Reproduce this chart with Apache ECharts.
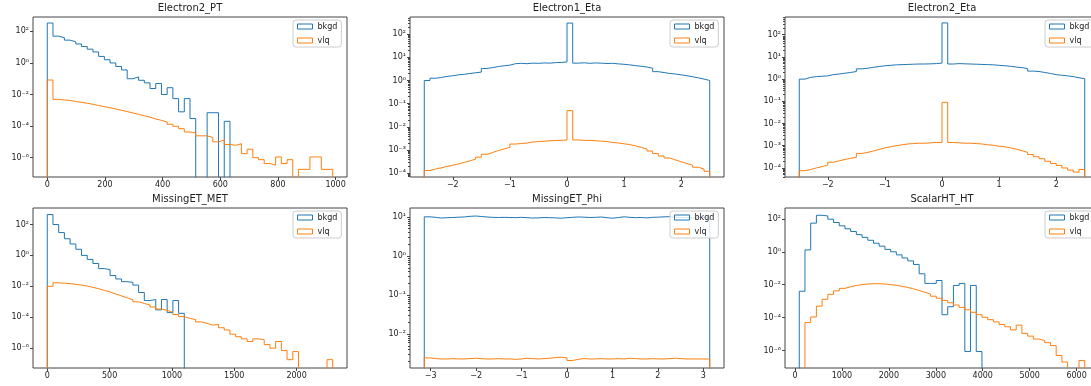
<!DOCTYPE html>
<html>
<head>
<meta charset="utf-8">
<script src="https://cdn.jsdelivr.net/npm/echarts@6/dist/echarts.min.js"></script>
<style>
  html, body { margin: 0; padding: 0; background: #fff; }
  #chart { width: 1091px; height: 386px; }
</style>
</head>
<body>
<div id="chart"></div>
<script>
// every histogram has 50 equal bins between its range [lo, hi]
const ptRange = [0, 990];
const eta1Range = [-2.5, 2.5];
const eta2Range = [-2.5, 2.5];
const metRange = [0, 2290];
const phiRange = [-Math.PI, Math.PI];
const htRange = [91, 6173];

const ptBkgd = [340, 50, 40, 28, 22, 16, 11, 7.5, 5, 2.6,
  1.6, 1.0, 0.6, 0.36, 0.1, 0.13, 0.08, 0.055, 0.024, 0.05,
  0.01, 0.027, 0.0055, 0.0008, 0.0055, 0.0003, 0, 0, 0.0007, 0.0007,
  0, 0.0002, 0, 0, 0, 0, 0, 0, 0, 0,
  0, 0, 0, 0, 0, 0, 0, 0, 0, 0];
const ptVlq = [0.083, 4.9e-3, 4.5e-3, 4.2e-3, 3.6e-3, 3.2e-3, 2.8e-3, 2.4e-3, 2.0e-3, 1.7e-3,
  1.45e-3, 1.2e-3, 1.0e-3, 8.3e-4, 6.8e-4, 5.5e-4, 4.5e-4, 3.7e-4, 2.8e-4, 2.3e-4,
  1.8e-4, 1.3e-4, 9.6e-5, 6.8e-5, 4.2e-5, 3.7e-5, 2.4e-5, 2.4e-5, 1.9e-5, 1.0e-5,
  1.3e-5, 6.8e-6, 6e-6, 7.6e-6, 1.8e-6, 3.4e-6, 1.0e-6, 7.4e-7, 4.2e-7, 3.3e-7,
  1.1e-6, 4.2e-7, 7.4e-7, 0, 1.8e-7, 1.8e-7, 1.1e-6, 1.1e-6, 1.8e-7, 1.8e-7];

const eta1Bkgd = [1.0, 1.25, 1.35, 1.5, 1.6, 1.75, 1.85, 2.0, 2.15, 2.3,
  3.3, 3.6, 4.0, 4.3, 4.6, 5.3, 5.5, 5.3, 5.6, 5.5,
  5.7, 5.6, 5.9, 6.0, 6.3, 300, 5.6, 5.8, 5.5, 5.7,
  5.6, 5.4, 5.5, 5.2, 5.0, 4.7, 4.4, 4.1, 3.8, 3.4,
  2.4, 2.2, 2.0, 1.9, 1.75, 1.6, 1.45, 1.3, 1.15, 1.0];
const eta1Vlq = [1.3e-4, 1.5e-4, 1.7e-4, 1.95e-4, 2.2e-4, 2.5e-4, 2.9e-4, 3.4e-4, 4.0e-4, 4.9e-4,
  6.5e-4, 7.8e-4, 9.5e-4, 1.1e-3, 1.3e-3, 1.8e-3, 1.9e-3, 2.0e-3, 2.2e-3, 2.3e-3,
  2.4e-3, 2.5e-3, 2.55e-3, 2.6e-3, 2.7e-3, 0.05, 2.7e-3, 2.6e-3, 2.6e-3, 2.5e-3,
  2.4e-3, 2.3e-3, 2.1e-3, 2.0e-3, 1.85e-3, 1.7e-3, 1.5e-3, 1.3e-3, 1.1e-3, 9e-4,
  7e-4, 5.5e-4, 4.5e-4, 3.7e-4, 3.1e-4, 2.6e-4, 2.2e-4, 1.8e-4, 1.5e-4, 1.2e-4];

const eta2Bkgd = [1.0, 1.2, 1.3, 1.35, 1.4, 1.6, 1.7, 1.85, 2.0, 2.2,
  2.9, 3.1, 3.4, 3.7, 4.0, 4.2, 4.4, 4.5, 4.6, 4.7,
  4.8, 4.8, 4.9, 5.0, 5.3, 340, 4.8, 5.0, 4.9, 4.8,
  4.7, 4.6, 4.5, 4.4, 4.2, 4.0, 3.8, 3.5, 3.3, 3.0,
  2.3, 2.2, 2.0, 1.8, 1.6, 1.5, 1.4, 1.3, 1.15, 1.05];
const eta2Vlq = [7.5e-5, 8.5e-5, 1.0e-4, 1.15e-4, 1.35e-4, 1.8e-4, 2.1e-4, 2.4e-4, 2.7e-4, 3.0e-4,
  4.5e-4, 5.0e-4, 5.8e-4, 6.8e-4, 8.0e-4, 9.0e-4, 1.0e-3, 1.1e-3, 1.2e-3, 1.25e-3,
  1.3e-3, 1.3e-3, 1.35e-3, 1.4e-3, 1.4e-3, 0.09, 1.4e-3, 1.35e-3, 1.3e-3, 1.3e-3,
  1.25e-3, 1.2e-3, 1.1e-3, 1.05e-3, 9.5e-4, 9.0e-4, 8.0e-4, 7.0e-4, 6.0e-4, 5.0e-4,
  4.0e-4, 3.2e-4, 2.6e-4, 2.0e-4, 1.6e-4, 1.3e-4, 1.0e-4, 8e-5, 6.5e-5, 8.5e-5];

const metBkgd = [440, 100, 30, 12, 5.5, 2.5, 1.0, 0.55, 0.3, 0.14,
  0.12, 0.05, 0.03, 0.02, 0.018, 0.012, 0.004, 0.0012, 0.0014, 0.0003,
  0.0014, 0.0002, 0.0012, 0.00018, 0, 0, 0, 0, 0, 0,
  0, 0, 0, 0, 0, 0, 0, 0, 0, 0,
  0, 0, 0, 0, 0, 0, 0, 0, 0, 0];
const metVlq = [1e-2, 1.7e-2, 1.6e-2, 1.5e-2, 1.35e-2, 1.2e-2, 1.05e-2, 8.6e-3, 7e-3, 5.5e-3,
  4.3e-3, 3.2e-3, 2.4e-3, 1.8e-3, 1.35e-3, 1.0e-3, 7.8e-4, 6.2e-4, 4.6e-4, 3.4e-4,
  2.8e-4, 2.1e-4, 1.5e-4, 1.1e-4, 8.5e-5, 7e-5, 5e-5, 4e-5, 3.1e-5, 3.4e-5,
  2.1e-5, 1.5e-5, 8e-6, 5.5e-6, 4e-6, 2.7e-6, 4e-6, 3.5e-6, 1.7e-6, 1.0e-6,
  2.7e-6, 7e-7, 1.8e-7, 6e-7, 0, 0, 0, 0, 0, 1.8e-7];

const phiBkgd = [10.1, 9.8, 9.4, 9.6, 9.7, 9.9, 10.0, 10.4, 10.6, 10.3,
  10.0, 9.8, 9.7, 9.8, 9.7, 9.6, 9.8, 9.6, 9.4, 9.5,
  9.7, 9.6, 9.5, 9.3, 9.6, 9.8, 10.0, 9.9, 9.7, 9.8,
  10.0, 9.6, 9.3, 9.7, 10.1, 9.8, 9.6, 9.7, 9.5, 9.8,
  9.9, 10.1, 10.2, 9.9, 9.7, 9.6, 9.5, 9.8, 9.6, 9.7];
const phiVlq = [2.45e-3, 2.35e-3, 2.3e-3, 2.3e-3, 2.35e-3, 2.3e-3, 2.3e-3, 2.35e-3, 2.4e-3, 2.35e-3,
  2.3e-3, 2.3e-3, 2.35e-3, 2.3e-3, 2.3e-3, 2.25e-3, 2.3e-3, 2.4e-3, 2.35e-3, 2.3e-3,
  2.35e-3, 2.4e-3, 2.5e-3, 2.55e-3, 2.45e-3, 2.1e-3, 2.25e-3, 2.35e-3, 2.3e-3, 2.3e-3,
  2.35e-3, 2.3e-3, 2.3e-3, 2.35e-3, 2.3e-3, 2.4e-3, 2.35e-3, 2.3e-3, 2.3e-3, 2.35e-3,
  2.3e-3, 2.3e-3, 2.35e-3, 2.4e-3, 2.35e-3, 2.3e-3, 2.3e-3, 2.3e-3, 2.3e-3, 2.3e-3];

const htBkgd = [4e-3, 1.3, 55, 165, 150, 95, 60, 38, 25, 17,
  11, 7.5, 5, 3.3, 2.2, 1.4, 1.0, 0.65, 0.42, 0.28,
  0.17, 0.046, 0.012, 0.012, 0.018, 1.5e-4, 4.6e-4, 9e-3, 0.012, 8.7e-7,
  9e-3, 8.7e-7, 0, 0, 0, 0, 0, 0, 0, 0,
  0, 0, 0, 0, 0, 0, 0, 0, 0, 0];
const htVlq = [0, 5e-5, 1.1e-4, 5e-4, 1.3e-3, 2.6e-3, 4.2e-3, 6e-3, 7.5e-3, 9e-3,
  1.0e-2, 1.1e-2, 1.15e-2, 1.15e-2, 1.1e-2, 1.02e-2, 9.2e-3, 8.0e-3, 6.8e-3, 5.6e-3,
  4.5e-3, 3.5e-3, 2.7e-3, 2.0e-3, 1.5e-3, 1.1e-3, 8e-4, 5.8e-4, 4.2e-4, 3.0e-4,
  2.1e-4, 1.5e-4, 1.05e-4, 7.5e-5, 5.5e-5, 3.8e-5, 2.8e-5, 1.8e-5, 3.5e-5, 1.1e-5,
  7.5e-6, 5e-6, 4e-6, 3e-6, 2e-6, 5e-7, 2e-7, 0, 0, 2.5e-7];

const ptTicks = [0, 200, 400, 600, 800, 1000];
const etaTicks = [-2, -1, 0, 1, 2];
const metTicks = [0, 500, 1000, 1500, 2000];
const phiTicks = [-3, -2, -1, 0, 1, 2, 3];
const htTicks = [0, 1000, 2000, 3000, 4000, 5000, 6000];
const wideLogTicks = [1e-6, 1e-4, 1e-2, 1, 1e2];
const etaLogTicks = [1e-4, 1e-3, 1e-2, 1e-1, 1, 1e1, 1e2];
const phiLogTicks = [1e-2, 1e-1, 1, 1e1];

const BLUE = '#1f77b4';
const ORANGE = '#ff7f0e';
const FONT = 'DejaVu Sans';
const FLOOR = 1e-30;

const panels = [
  {name: 'Electron2_PT', range: ptRange, bkgd: ptBkgd, vlq: ptVlq, xt: ptTicks, yt: wideLogTicks, y: [5.9e-8, 820], minor: false, left: 33, top: 17},
  {name: 'Electron1_Eta', range: eta1Range, bkgd: eta1Bkgd, vlq: eta1Vlq, xt: etaTicks, yt: etaLogTicks, y: [6.8e-5, 550], minor: true, left: 410, top: 17},
  {name: 'Electron2_Eta', range: eta2Range, bkgd: eta2Bkgd, vlq: eta2Vlq, xt: etaTicks, yt: etaLogTicks, y: [3.9e-5, 630], minor: true, left: 785, top: 17},
  {name: 'MissingET_MET', range: metRange, bkgd: metBkgd, vlq: metVlq, xt: metTicks, yt: wideLogTicks, y: [5.2e-8, 1170], minor: false, left: 33, top: 208},
  {name: 'MissingET_Phi', range: phiRange, bkgd: phiBkgd, vlq: phiVlq, xt: phiTicks, yt: phiLogTicks, y: [1.35e-3, 17], minor: true, left: 410, top: 208},
  {name: 'ScalarHT_HT', range: htRange, bkgd: htBkgd, vlq: htVlq, xt: htTicks, yt: wideLogTicks, y: [8.7e-8, 457], minor: false, left: 785, top: 208}
];
const W = 314, H = 160;

function stepData(range, counts) {
  const w = (range[1] - range[0]) / counts.length;
  const pts = [[range[0], FLOOR]];
  counts.forEach((c, i) => pts.push([range[0] + i * w, c > 0 ? c : FLOOR]));
  pts.push([range[1], FLOOR]);
  return pts;
}

const SUP = {'-': '\u207b', '0': '\u2070', '1': '\u00b9', '2': '\u00b2', '3': '\u00b3',
  '4': '\u2074', '5': '\u2075', '6': '\u2076', '7': '\u2077', '8': '\u2078', '9': '\u2079'};
const logLabel = v => '10' + String(Math.round(Math.log10(v))).split('').map(c => SUP[c]).join('');
const numLabel = v => (v < 0 ? '\u2212' + (-v) : String(v));

function minorTicks(lo, hi) {
  const out = [];
  for (let e = Math.floor(Math.log10(lo)); e <= Math.ceil(Math.log10(hi)); e++) {
    for (let k = 2; k <= 9; k++) {
      const v = k * Math.pow(10, e);
      if (v > lo && v < hi) out.push(v);
    }
  }
  return out;
}

const labelStyle = {fontFamily: FONT, fontSize: 8, color: '#222'};
const grid = [], xAxis = [], yAxis = [], series = [], title = [], legend = [];

panels.forEach((p, i) => {
  grid.push({left: p.left, top: p.top, width: W, height: H, show: true,
    borderColor: '#444', borderWidth: 1, containLabel: false, outerBoundsMode: 'none'});
  const span = p.range[1] - p.range[0];
  xAxis.push({type: 'value', gridIndex: i, min: p.range[0] - 0.05 * span, max: p.range[1] + 0.05 * span,
    position: 'bottom', axisLine: {show: false, onZero: false}, splitLine: {show: false},
    axisTick: {customValues: p.xt, length: 3, lineStyle: {color: '#444'}},
    axisLabel: Object.assign({customValues: p.xt, margin: 4, formatter: numLabel}, labelStyle)});
  yAxis.push({type: 'log', logBase: 10, gridIndex: i, min: p.y[0], max: p.y[1], position: 'left',
    axisLine: {show: false, onZero: false}, splitLine: {show: false},
    axisTick: {customValues: p.yt, length: 3, lineStyle: {color: '#444'}},
    axisLabel: Object.assign({customValues: p.yt, margin: 4, formatter: logLabel}, labelStyle)});
  title.push({text: p.name, left: p.left + W / 2, top: p.top - 14, textAlign: 'center', padding: 0,
    textStyle: {fontFamily: FONT, fontSize: 10, fontWeight: 'normal', color: '#222'}});
  legend.push({left: p.left + 260, top: p.top + 3, orient: 'vertical', selectedMode: false,
    backgroundColor: 'rgba(255,255,255,0.8)', borderColor: '#cccccc', borderWidth: 1, borderRadius: 3,
    padding: [2, 4], itemGap: 5, itemWidth: 15, itemHeight: 5,
    textStyle: {fontFamily: FONT, fontSize: 8, color: '#222', lineHeight: 9},
    data: [
      {name: 'bkgd', icon: 'rect', itemStyle: {color: 'rgba(0,0,0,0)', borderColor: BLUE, borderWidth: 1}},
      {name: 'vlq', icon: 'rect', itemStyle: {color: 'rgba(0,0,0,0)', borderColor: ORANGE, borderWidth: 1}}
    ]});
  [['bkgd', p.bkgd, BLUE], ['vlq', p.vlq, ORANGE]].forEach(([name, counts, color]) => {
    series.push({name, type: 'line', step: 'end', xAxisIndex: i, yAxisIndex: i,
      data: stepData(p.range, counts), showSymbol: false, symbol: 'none', color,
      lineStyle: {color, width: 1}, clip: true, silent: true});
  });
});

// minor log ticks on the panels with a short y range: an invisible twin grid
// (a second y axis on the same grid would be pushed to the right side)
panels.forEach((p) => {
  if (!p.minor) return;
  const g = grid.length;
  const m = minorTicks(p.y[0], p.y[1]);
  grid.push({left: p.left, top: p.top, width: W, height: H, show: false, outerBoundsMode: 'none'});
  xAxis.push({type: 'value', gridIndex: g, show: false});
  yAxis.push({type: 'log', logBase: 10, gridIndex: g, min: p.y[0], max: p.y[1], position: 'left',
    axisLine: {show: false, onZero: false}, splitLine: {show: false},
    axisTick: {customValues: m, length: 2, lineStyle: {color: '#444'}},
    axisLabel: {show: false, customValues: m}});
});

const chart = echarts.init(document.getElementById('chart'));
chart.setOption({animation: false, backgroundColor: '#fff', title, legend, grid, xAxis, yAxis, series});
</script>
</body>
</html>
